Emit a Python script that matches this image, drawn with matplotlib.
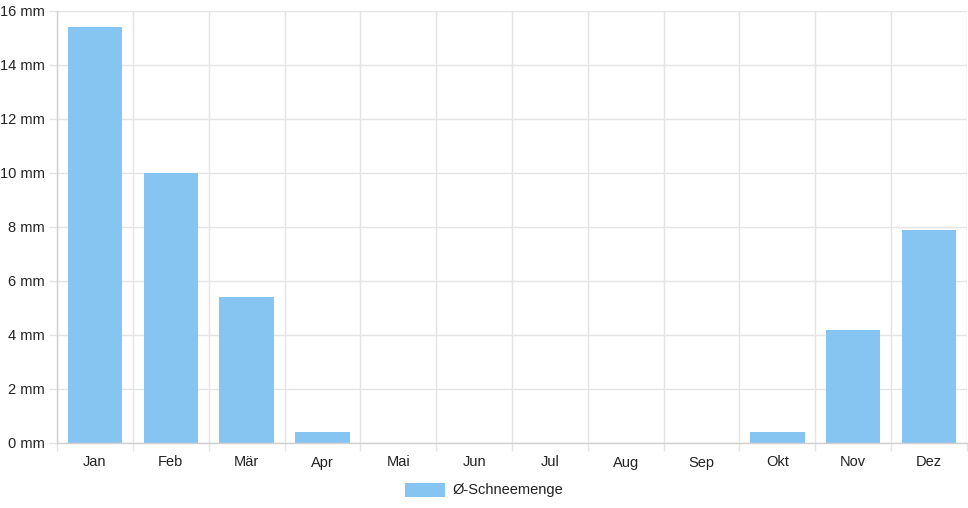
import numpy as np
import matplotlib.pyplot as plt
from matplotlib.ticker import FixedLocator

months = ['Jan', 'Feb', 'Mär', 'Apr', 'Mai', 'Jun', 'Jul', 'Aug', 'Sep', 'Okt', 'Nov', 'Dez']
snow = [15.4, 10.0, 5.4, 0.4, 0, 0, 0, 0, 0, 0.4, 4.2, 7.9]
yticks = [0, 2, 4, 6, 8, 10, 12, 14, 16]

plt.rcParams['font.family'] = ['Liberation Sans', 'DejaVu Sans']
grid_c = '#e4e4e4'
bar_c = '#86c5f2'

fig = plt.figure(figsize=(9.68, 5.08), dpi=100)
ax = fig.add_axes([57/968, 65/508, 910/968, 432/508])

x = np.arange(len(months))
ax.bar(x, snow, width=0.715, color=bar_c, zorder=2, label='Ø-Schneemenge')

ax.set_xlim(-0.5, len(months) - 0.5)
ax.set_ylim(0, 16)

# boundaries as major ticks (grid + tick marks), centres as minor (labels)
ax.xaxis.set_major_locator(FixedLocator(np.arange(-0.5, len(months), 1.0)))
ax.xaxis.set_minor_locator(FixedLocator(x))
ax.set_xticklabels([], minor=False)
ax.set_xticklabels(months, minor=True)
ax.tick_params(axis='x', which='major', length=6, color=grid_c, width=1)
ax.tick_params(axis='x', which='minor', length=0, pad=9, labelsize=10.5, labelcolor='#222222')

ax.set_yticks(yticks)
ax.set_yticklabels(['%d mm' % v for v in yticks])
ax.tick_params(axis='y', length=6, color=grid_c, width=1, pad=3, labelsize=10.5, labelcolor='#222222')

ax.grid(True, which='major', color=grid_c, linewidth=1, zorder=0)
for s in ['top', 'right']:
    ax.spines[s].set_visible(False)
for s in ['left', 'bottom']:
    ax.spines[s].set_color('#d0d0d0')
    ax.spines[s].set_linewidth(1)

leg = fig.legend(loc='center', bbox_to_anchor=(484/968, 1 - 490/508), frameon=False,
                 fontsize=10.5, handlelength=2.8, handleheight=1.1, handletextpad=0.5)
for t in leg.get_texts():
    t.set_color('#222222')

fig.savefig('out.png', dpi=100)
